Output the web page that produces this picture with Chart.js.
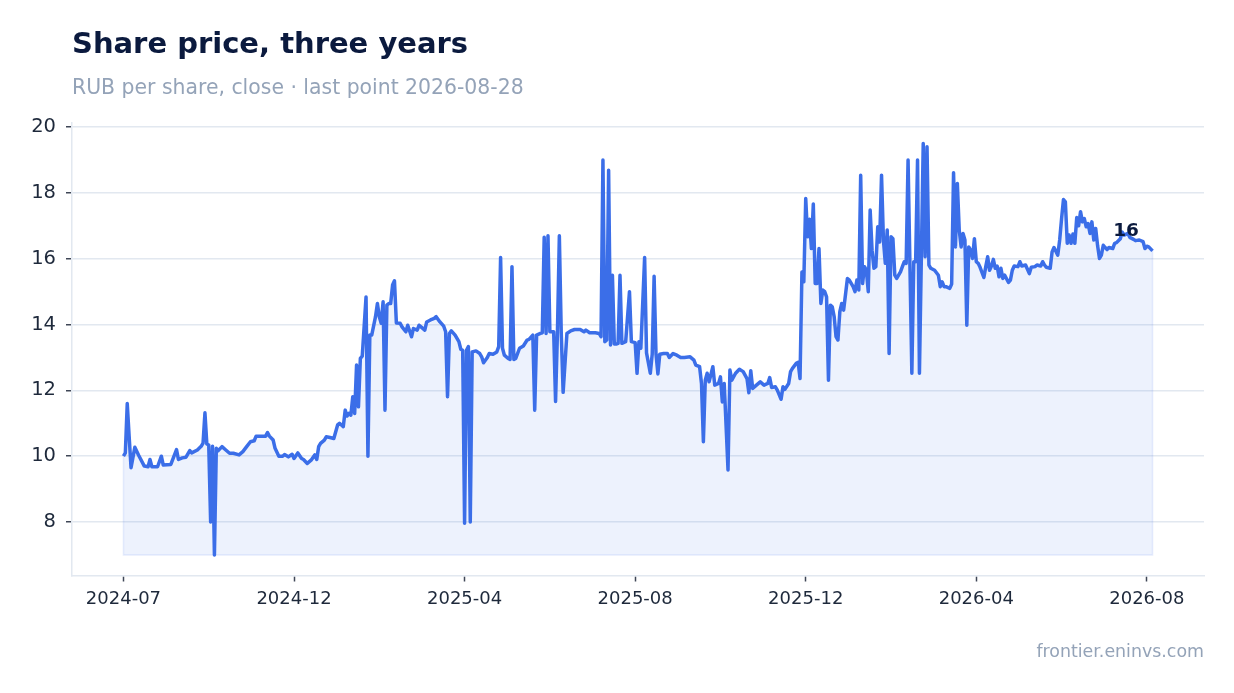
<!DOCTYPE html>
<html><head><meta charset="utf-8">
<script src="https://cdn.jsdelivr.net/npm/chart.js@4.4.1/dist/chart.umd.min.js"></script>
<style>
html,body{margin:0;padding:0;background:#fff;}
#wrap{position:relative;width:1234px;height:693px;overflow:hidden;font-family:"DejaVu Sans",sans-serif;}
#c{position:absolute;left:0;top:0;}
.t{position:absolute;white-space:nowrap;}
#title{left:72px;top:29px;font-size:29px;line-height:29px;font-weight:bold;color:#0b1a3e;}
#sub{left:72px;top:77px;font-size:20.4px;line-height:20.4px;color:#94a3b8;}
#foot{right:30px;top:643px;font-size:17.4px;line-height:17.4px;color:#94a3b8;}
</style></head>
<body><div id="wrap">
<canvas id="c" width="1234" height="693"></canvas>
<div class="t" id="title">Share price, three years</div>
<div class="t" id="sub">RUB per share, close · last point 2026-08-28</div>
<div class="t" id="foot">frontier.eninvs.com</div>
</div>
<script>
// trading-day index (0 = first session of 2024-07) and close price, RUB
const tradingDay = [0,1,2,3,4,6,8,11,13,14,15,18,20,21,25,28,29,31,33,35,36,39,41,42,43,44,45,46,47,48,49,50,
52,54,56,58,61,63,65,67,69,70,73,75,76,77,79,80,82,84,85,87,89,90,92,94,95,97,99,101,102,103,104,106,107,109,111,113,114,116,117,118,119,120,121,122,123,124,125,126,128,129,130,131,133,134,135,136,137,138,139,140,141,142,143,144,
146,147,149,150,152,153,155,156,157,159,160,162,164,165,167,169,170,171,172,173,175,177,178,179,180,181,182,183,184,186,188,189,190,192,193,195,197,198,199,200,201,203,204,205,206,207,209,211,213,214,216,217,218,220,221,222,223,224,225,227,228,229,230,231,232,234,236,238,241,243,244,246,249,251,252,253,254,255,256,257,258,259,260,261,262,263,265,267,268,270,271,272,273,275,276,278,279,280,281,282,283,285,287,288,290,292,294,296,299,
301,302,304,305,306,307,308,309,311,312,314,315,316,317,319,320,321,323,325,327,329,330,331,332,334,336,338,340,341,342,344,345,347,348,349,351,352,353,355,356,357,358,359,360,361,362,363,364,365,366,367,368,369,370,371,372,373,374,375,376,377,378,379,380,382,383,385,386,387,388,389,390,391,392,393,394,395,396,397,398,399,
400,401,402,403,404,405,406,407,408,410,411,412,413,414,416,417,418,419,420,422,423,424,425,426,428,430,431,432,433,434,436,437,438,439,440,441,442,443,444,445,446,447,448,449,450,451,452,454,455,456,457,458,459,460,461,462,463,464,465,467,468,469,470,472,473,474,476,477,478,479,481,482,484,485,486,487,489,490,491,493,494,495,496,497,498,499,
500,501,502,503,504,505,506,507,508,509,510,511,512,513,514,515,516,517,518,519,520,522,523,524,526,527,528,530,531,533,534,536,538,539,540,541,543];
const close = [10.0,10.1,11.6,10.6,9.65,10.27,10.03,9.7,9.68,9.9,9.68,9.68,10.0,9.73,9.75,10.2,9.9,9.95,9.97,10.17,10.1,10.19,10.3,10.4,11.32,10.37,10.34,8.0,10.3,7.0,10.24,10.17,
10.29,10.19,10.09,10.09,10.04,10.14,10.29,10.44,10.47,10.61,10.61,10.61,10.72,10.61,10.49,10.24,10.0,10.0,10.05,9.98,10.06,9.93,10.1,9.93,9.9,9.78,9.88,10.04,9.9,10.29,10.39,10.49,10.59,10.57,10.54,10.95,11.0,10.9,11.4,11.22,11.3,11.25,11.81,11.3,12.77,11.5,12.97,13.04,14.84,10.0,13.68,13.68,14.24,14.64,14.24,14.04,14.69,11.4,14.59,14.64,14.64,15.2,15.33,14.05,
14.04,13.93,13.78,13.98,13.63,13.88,13.83,13.98,13.93,13.83,14.08,14.14,14.19,14.24,14.08,13.95,13.78,11.81,13.73,13.81,13.68,13.48,13.25,13.22,7.96,13.22,13.33,8.0,13.17,13.2,13.12,13.02,12.84,13.0,13.12,13.1,13.17,13.33,16.04,13.28,13.07,12.97,12.94,15.76,12.94,12.97,13.28,13.35,13.53,13.55,13.68,11.4,13.68,13.73,13.75,16.65,13.73,16.7,13.78,13.78,11.66,13.78,16.7,13.75,11.94,13.73,13.81,13.85,13.85,13.78,13.83,13.75,13.75,13.73,13.63,19.0,13.48,13.53,18.69,13.38,15.5,13.41,13.41,13.43,15.5,13.43,13.48,15.0,13.48,13.45,12.52,13.48,13.28,16.04,13.14,12.52,13.1,15.47,13.1,12.5,13.1,13.12,13.12,13.0,13.12,13.07,13.0,13.0,13.02,
12.92,12.77,12.72,12.21,10.44,12.31,12.52,12.26,12.72,12.16,12.21,12.41,11.65,12.21,9.58,12.62,12.31,12.52,12.64,12.57,12.36,11.93,12.6,12.06,12.16,12.26,12.16,12.21,12.39,12.09,12.11,12.01,11.73,12.11,12.03,12.21,12.57,12.67,12.82,12.85,12.36,15.6,15.3,17.83,16.67,17.2,16.31,17.66,15.25,15.25,16.31,14.64,15.05,15.0,14.84,12.31,14.59,14.54,14.24,13.63,13.53,14.39,14.64,14.44,15.4,15.35,15.15,15.0,15.35,15.05,18.54,15.25,15.76,15.65,15.0,17.48,16.26,15.71,15.76,16.97,16.51,
18.54,16.57,15.86,16.87,13.12,16.67,16.61,15.5,15.4,15.6,15.76,15.91,15.86,19.0,12.52,15.91,15.91,19.0,12.52,19.5,16.06,19.4,15.81,15.71,15.65,15.5,15.15,15.3,15.15,15.15,15.1,15.23,18.61,16.36,18.29,16.87,16.36,16.77,16.57,13.98,16.36,16.26,16.01,16.61,15.91,15.86,15.74,15.43,15.76,16.06,15.65,15.78,15.98,15.71,15.78,15.45,15.71,15.4,15.5,15.28,15.35,15.65,15.78,15.76,15.91,15.78,15.81,15.68,15.55,15.74,15.76,15.81,15.78,15.91,15.81,15.74,15.71,16.21,16.34,16.11,16.57,17.22,17.8,17.73,16.47,16.72,
16.47,16.75,16.47,17.25,17.0,17.43,17.12,17.22,16.97,17.07,16.77,17.12,16.57,16.92,16.4,16.01,16.11,16.41,16.34,16.28,16.34,16.31,16.47,16.49,16.61,16.81,16.72,16.77,16.65,16.59,16.55,16.57,16.52,16.31,16.38,16.36,16.24];
const xTickDays = [0,90,180,270,360,450,540];
const xTickLabels = ['2024-07','2024-12','2025-04','2025-08','2025-12','2026-04','2026-08'];
const yTicks = [8,10,12,14,16,18,20];

const pts = tradingDay.map((d,i)=>({x:d,y:close[i]}));
const lo = Math.min(...close), hi = Math.max(...close);
const pad = (hi-lo)*0.05;
const first = tradingDay[0], last = tradingDay[tradingDay.length-1];
const span = last-first;
const edge = [{x:first,y:close[0]},{x:first,y:lo},{x:last,y:lo},{x:last,y:close[close.length-1]}];

const lastLabel = {id:'lastLabel', afterDatasetsDraw(chart){
  const meta = chart.getDatasetMeta(0);
  const p = meta.data[meta.data.length-1];
  const c = chart.ctx; c.save();
  c.font = 'bold 18.5px "DejaVu Sans"'; c.fillStyle = '#0b1a3e';
  c.textAlign = 'center'; c.textBaseline = 'alphabetic';
  c.fillText(String(Math.round(close[close.length-1])), p.x - 26.5, p.y - 15.2);
  c.restore();
}};

new Chart(document.getElementById('c'), {
  type:'line',
  data:{datasets:[
    {data:pts, borderColor:'#3b6ee8', borderWidth:3.5, pointRadius:0, tension:0,
     fill:{value:lo}, backgroundColor:'rgba(59,110,232,0.09)', borderJoinStyle:'round', order:0},
    {data:edge, borderColor:'rgba(59,110,232,0.13)', borderWidth:1.5, pointRadius:0, fill:false, order:1}
  ]},
  options:{
    responsive:false, animation:false, devicePixelRatio:1,
    layout:{padding:{top:123,right:30,left:0,bottom:0}},
    plugins:{legend:{display:false}, tooltip:{enabled:false}, title:{display:false}},
    scales:{
      x:{type:'linear', min:first-span*0.05, max:last+span*0.05,
        afterBuildTicks:s=>{ s.ticks = xTickDays.map(v=>({value:v})); },
        afterFit:s=>{ s.height = 117.5; },
        grid:{drawOnChartArea:false, drawTicks:true, tickLength:6, tickColor:'#3f4656', tickWidth:1.5},
        border:{color:'#e2e8f0', width:1.5},
        ticks:{callback:(v,i)=>xTickLabels[i], padding:7, color:'#1e293b', font:{family:'DejaVu Sans', size:18}, maxRotation:0, autoSkip:false}
      },
      y:{min:lo-pad, max:hi+pad,
        afterBuildTicks:s=>{ s.ticks = yTicks.map(v=>({value:v})); },
        afterFit:s=>{ s.width = 72; },
        grid:{color:'#e2e8f0', lineWidth:1.5, tickLength:6, tickColor:'#3f4656', tickWidth:1.5},
        border:{color:'#e2e8f0', width:1.5},
        ticks:{padding:10, color:'#1e293b', font:{family:'DejaVu Sans', size:19.5}}
      }
    }
  },
  plugins:[lastLabel]
});
</script>
</body></html>
